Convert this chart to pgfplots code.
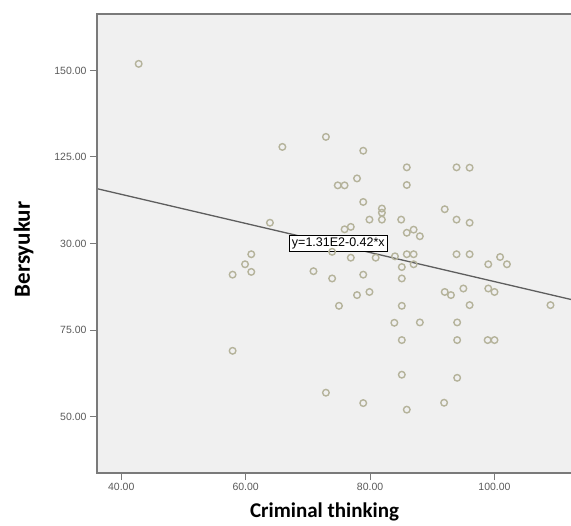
\documentclass[border=0pt]{standalone}
\usepackage{fontspec}
\setmainfont{Liberation Sans}
\newfontfamily\carlito{Carlito}
\usepackage{pgfplots}
\pgfplotsset{compat=1.18}
\definecolor{bg}{HTML}{F0F0F0}
\definecolor{frame}{HTML}{7A7A7A}
\definecolor{ptc}{HTML}{B5B39B}
\definecolor{fitc}{HTML}{5E5E5E}
\definecolor{tickc}{HTML}{5A5A5A}
\begin{document}
\begin{tikzpicture}
\begin{axis}[
  scale only axis, width=474pt, height=459pt,
  xmin=36.1, xmax=112.3, ymin=33.7, ymax=166.3,
  clip=false,
  axis background/.style={fill=bg},
  axis line style={draw=none},
  xtick={40,60,80,100}, xticklabels={40.00,60.00,80.00,100.00},
  ytick={50,75,100,125,150}, yticklabels={50.00,75.00,30.00,125.00,150.00},
  tick align=outside, major tick length=7pt,
  tick style={frame, line width=1pt},
  tick pos=left,
  ticklabel style={font=\fontsize{10.5}{12}\selectfont, text=tickc},
  xlabel={Criminal thinking}, ylabel={Bersyukur},
  every axis x label/.style={at={(rel axis cs:0.48,-0.0980)}, anchor=base, font=\carlito\bfseries\fontsize{21}{24}\selectfont},
  every axis y label/.style={at={(rel axis cs:-0.1414,0.487)}, rotate=90, anchor=base, font=\carlito\bfseries\fontsize{23}{26}\selectfont},
]
\addplot[only marks, mark=o, mark size=3.3pt, mark options={draw=ptc, line width=1.4pt}] coordinates {
(42.8,151.9) (65.9,127.9) (72.9,130.8) (74.8,116.8) (75.9,116.8) (63.9,106.0)
(78.9,126.8) (85.9,122.0) (93.9,122.0) (96.0,121.9) (77.9,118.8) (85.9,116.9)
(78.9,112.0) (81.9,110.1) (81.9,108.9) (81.9,106.9) (79.9,106.9) (85.0,106.9)
(92.0,109.9) (93.9,106.9) (96.0,106.0) (76.9,104.8) (75.9,104.1) (85.9,103.1)
(87.0,104.0) (88.0,102.1) (100.9,96.1) (102.0,94.0) (99.0,94.0) (93.9,96.9)
(96.0,96.9) (92.0,86.0) (93.0,85.1) (95.0,87.0) (99.0,87.0) (100.0,86.0)
(96.0,82.2) (109.0,82.2) (85.9,96.9) (87.0,96.9) (87.0,94.0) (85.1,93.2)
(85.1,89.9) (85.1,82.0) (88.0,77.2) (94.0,77.2) (85.1,72.1) (94.0,72.1)
(98.9,72.1) (100.0,72.1) (85.1,62.1) (94.0,61.2) (85.9,52.0) (91.9,54.0)
(78.9,91.0) (77.9,85.1) (79.9,86.0) (83.9,77.1) (78.9,53.9) (75.0,82.0)
(73.9,97.6) (76.9,95.9) (80.9,95.9) (84.0,96.3) (60.9,96.9) (59.9,94.0)
(60.9,91.8) (57.9,91.0) (70.9,92.0) (73.9,89.9) (57.9,69.0) (72.9,56.9)
};
\addplot[fitc, line width=1.3pt] coordinates {(36.1,115.84) (112.3,83.83)};
\node[draw=black, fill=white, inner sep=2.5pt, line width=0.8pt, font=\fontsize{12.5}{14}\selectfont] at (axis cs:74.9,100) {y=1.31E2-0.42*x};
\draw[frame, line width=1.5pt] (rel axis cs:1,1) -- (rel axis cs:0,1) -- (rel axis cs:0,0) -- (rel axis cs:1,0);
\coordinate (ll) at (rel axis cs:0,0);
\coordinate (ur) at (rel axis cs:1,1);
\end{axis}
\pgfresetboundingbox
\path[use as bounding box] ([xshift=-97pt,yshift=-52pt]ll) rectangle ([yshift=14pt]ur);
\end{tikzpicture}
\end{document}
